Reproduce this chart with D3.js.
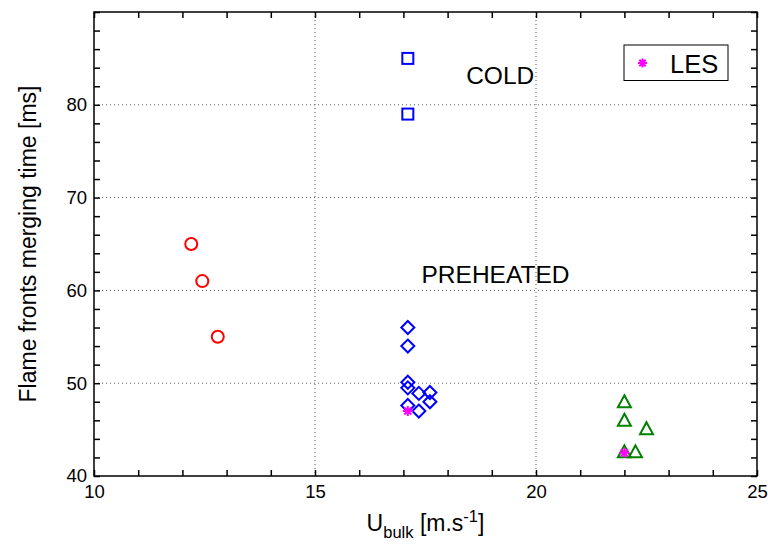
<!DOCTYPE html>
<html>
<head>
<meta charset="utf-8">
<script src="https://cdn.jsdelivr.net/npm/d3@7"></script>
<style>
  body { margin: 0; background: #fff; }
  svg { display: block; font-family: "Liberation Sans", Arial, sans-serif; }
</style>
</head>
<body>
<svg id="chart" width="768" height="544"></svg>
<script>
// Merging time of the two flame fronts versus bulk velocity
const coldU = [17.1, 17.1];
const coldT = [85, 79];

const redU = [12.2, 12.45, 12.8];
const redT = [65, 61, 55];

const preU = [17.1, 17.1, 17.1, 17.1, 17.35, 17.6, 17.6, 17.1, 17.35];
const preT = [56, 54, 50.1, 49.5, 48.9, 49, 48, 47.6, 47];

const greenU = [22, 22, 22.5, 22, 22.25];
const greenT = [48, 46, 45.1, 42.6, 42.6];

const lesU = [17.1, 22];
const lesT = [47, 42.5];

const xTicks = [10, 15, 20, 25];
const yTicks = [40, 50, 60, 70, 80];

const svg = d3.select("#chart");
const m = { left: 94, right: 11, top: 12, bottom: 68 };
const W = 768, H = 544;
const x = d3.scaleLinear().domain([10, 25]).range([m.left, W - m.right]);
const y = d3.scaleLinear().domain([40, 90]).range([H - m.bottom, m.top]);

const pw = W - m.right - m.left, ph = H - m.bottom - m.top;

// dotted grid at major ticks
const grid = svg.append("g").attr("stroke", "#555").attr("stroke-width", 1)
  .attr("stroke-dasharray", "1,3");
xTicks.filter(d => d > 10 && d < 25).forEach(d => {
  grid.append("line").attr("x1", x(d)).attr("x2", x(d))
    .attr("y1", m.top).attr("y2", H - m.bottom);
});
yTicks.filter(d => d > 40).forEach(d => {
  grid.append("line").attr("x1", m.left).attr("x2", W - m.right)
    .attr("y1", y(d)).attr("y2", y(d));
});

// axes with inward ticks on all four sides
const minorX = d3.range(10, 26, 1);
const minorY = d3.range(40, 91, 2);
const tl = 6;
svg.append("g").attr("transform", `translate(0,${H - m.bottom})`)
  .call(d3.axisBottom(x).tickValues(minorX).tickSize(-tl).tickPadding(9)
    .tickFormat(d => xTicks.includes(d) ? d : ""))
  .call(g => g.select(".domain").remove());
svg.append("g").attr("transform", `translate(0,${m.top})`)
  .call(d3.axisTop(x).tickValues(minorX).tickSize(-tl).tickFormat(""))
  .call(g => g.select(".domain").remove());
svg.append("g").attr("transform", `translate(${m.left},0)`)
  .call(d3.axisLeft(y).tickValues(minorY).tickSize(-tl).tickPadding(7)
    .tickFormat(d => yTicks.includes(d) ? d : ""))
  .call(g => g.select(".domain").remove());
svg.append("g").attr("transform", `translate(${W - m.right},0)`)
  .call(d3.axisRight(y).tickValues(minorY).tickSize(-tl).tickFormat(""))
  .call(g => g.select(".domain").remove());

svg.selectAll(".tick line").attr("stroke", "#000").attr("stroke-width", 1.5);
svg.selectAll(".tick text").attr("font-size", 18.5).attr("fill", "#000")
  .attr("font-family", "Liberation Sans, Arial, sans-serif");

svg.append("rect").attr("x", m.left).attr("y", m.top).attr("width", pw).attr("height", ph)
  .attr("fill", "none").attr("stroke", "#000").attr("stroke-width", 1.5);

// markers
const plot = svg.append("g");
plot.selectAll(".circ").data(redU.map((u, i) => [u, redT[i]])).join("circle")
  .attr("cx", d => x(d[0])).attr("cy", d => y(d[1])).attr("r", 6)
  .attr("fill", "none").attr("stroke", "#ff0000").attr("stroke-width", 2);

plot.selectAll(".sq").data(coldU.map((u, i) => [u, coldT[i]])).join("rect")
  .attr("x", d => x(d[0]) - 5.5).attr("y", d => y(d[1]) - 5.5).attr("width", 11).attr("height", 11)
  .attr("fill", "none").attr("stroke", "#0000ff").attr("stroke-width", 2);

plot.selectAll(".dia").data(preU.map((u, i) => [u, preT[i]])).join("path")
  .attr("d", d => { const cx = x(d[0]), cy = y(d[1]), r = 6.5;
    return `M${cx},${cy - r}L${cx + r},${cy}L${cx},${cy + r}L${cx - r},${cy}Z`; })
  .attr("fill", "none").attr("stroke", "#0000ff").attr("stroke-width", 2);

plot.selectAll(".tri").data(greenU.map((u, i) => [u, greenT[i]])).join("path")
  .attr("d", d => { const cx = x(d[0]), cy = y(d[1]), r = 6.5;
    return `M${cx},${cy - r}L${cx + r},${cy + r - 1}L${cx - r},${cy + r - 1}Z`; })
  .attr("fill", "none").attr("stroke", "#008000").attr("stroke-width", 2);

function star(g, cx, cy, r) {
  const p = [];
  for (let k = 0; k < 4; k++) {
    const a = k * Math.PI / 4;
    p.push(`M${cx - r * Math.cos(a)},${cy - r * Math.sin(a)}L${cx + r * Math.cos(a)},${cy + r * Math.sin(a)}`);
  }
  g.append("path").attr("d", p.join("")).attr("stroke", "#ff00ff").attr("stroke-width", 2).attr("fill", "none");
}
lesU.forEach((u, i) => star(plot, x(u), y(lesT[i]), 5));

// annotations
svg.append("text").attr("x", x(18.42)).attr("y", y(82.26)).attr("font-size", 24.5).text("COLD");
svg.append("text").attr("x", x(17.41)).attr("y", y(60.78)).attr("font-size", 24.5).text("PREHEATED");

// legend
const lg = svg.append("g");
lg.append("rect").attr("x", 624).attr("y", 45).attr("width", 104).attr("height", 35.5)
  .attr("fill", "#fff").attr("stroke", "#000").attr("stroke-width", 1);
star(lg, 642.5, 63, 4.5);
lg.append("text").attr("x", 670).attr("y", 72.5).attr("font-size", 25.5).text("LES");

// axis titles
svg.append("text").attr("transform", `translate(36,${(m.top + H - m.bottom) / 2}) rotate(-90)`)
  .attr("text-anchor", "middle").attr("font-size", 23).text("Flame fronts merging time [ms]");
const xl = svg.append("text").attr("x", (m.left + W - m.right) / 2).attr("y", 531)
  .attr("text-anchor", "middle").attr("font-size", 23);
xl.append("tspan").text("U");
xl.append("tspan").attr("font-size", 16.5).attr("dy", 7).text("bulk");
xl.append("tspan").attr("dy", -7).text(" [m.s");
xl.append("tspan").attr("font-size", 16.5).attr("dy", -9).text("-1");
xl.append("tspan").attr("dy", 9).text("]");
</script>
</body>
</html>
